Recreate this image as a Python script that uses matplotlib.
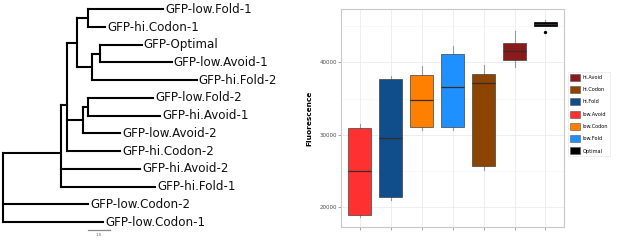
import matplotlib
matplotlib.use("Agg")
import numpy as np
import matplotlib.pyplot as plt
from matplotlib.patches import Patch

# ---- tree (branch lengths, scale bar = 1.0) ----
newick = ("(((((GFP-low.Fold-1:3.43,GFP-hi.Codon-1:0.76):0.53,"
          "((GFP-Optimal:1.92,GFP-low.Avoid-1:3.30):0.37,GFP-hi.Fold-2:4.82):0.69):0.46,"
          "((GFP-low.Fold-2:3.00,GFP-hi.Avoid-1:3.30):0.23,GFP-low.Avoid-2:1.69):0.75,"
          "GFP-hi.Codon-2:2.44):0.28,GFP-hi.Avoid-2:3.64,GFP-hi.Fold-1:4.33):2.67,"
          "GFP-low.Codon-2:3.93,GFP-low.Codon-1:4.62);")

# ---- boxplot summary values ----
groups = ["low.Avoid", "hi.Fold", "low.Codon", "low.Fold", "hi.Codon", "hi.Avoid", "Optimal"]
whislo = [18670, 21010, 30670, 30670, 25200, 39400, 45050]
q1 = [18900, 21380, 31080, 31030, 25700, 40280, 45050]
med = [25010, 29520, 34760, 36640, 37200, 41560, 45350]
q3 = [30900, 37750, 38210, 41200, 38350, 42620, 45600]
whishi = [31490, 38070, 39450, 42250, 39630, 44370, 45830]
outliers = [[], [], [], [], [], [], [44140]]

legend_order = ["hi.Avoid", "hi.Codon", "hi.Fold", "low.Avoid", "low.Codon", "low.Fold", "Optimal"]
fill = {
    "hi.Avoid": "#8B1A1A",
    "hi.Codon": "#8B4500",
    "hi.Fold": "#104E8B",
    "low.Avoid": "#FF3030",
    "low.Codon": "#FF7F00",
    "low.Fold": "#1E90FF",
    "Optimal": "#000000",
}


def parse_newick(s):
    pos = 0

    def node():
        nonlocal pos
        children = []
        if s[pos] == "(":
            pos += 1
            while True:
                children.append(node())
                if s[pos] == ",":
                    pos += 1
                    continue
                pos += 1  # ")"
                break
        start = pos
        while s[pos] not in ":,);":
            pos += 1
        name = s[start:pos]
        length = 0.0
        if s[pos] == ":":
            pos += 1
            start = pos
            while s[pos] not in ",);":
                pos += 1
            length = float(s[start:pos])
        return {"name": name, "len": length, "children": children}

    return node()


def layout(nd, x0, leaves):
    nd["x"] = x0 + nd["len"]
    if not nd["children"]:
        nd["y"] = len(leaves)
        leaves.append(nd)
    else:
        for c in nd["children"]:
            layout(c, nd["x"], leaves)
        nd["y"] = np.mean([c["y"] for c in nd["children"]])


def draw_tree(ax, nd):
    kw = dict(color="black", lw=1.5, solid_capstyle="projecting")
    if nd["children"]:
        ys = [c["y"] for c in nd["children"]]
        ax.plot([nd["x"], nd["x"]], [min(ys), max(ys)], **kw)
        for c in nd["children"]:
            ax.plot([nd["x"], c["x"]], [c["y"], c["y"]], **kw)
            draw_tree(ax, c)
    else:
        ax.text(nd["x"] + 0.1, nd["y"], nd["name"], ha="left", va="center",
                fontsize=8.6, color="#111111")


fig = plt.figure(figsize=(6.17, 2.4), dpi=100)

# ---------------- left: tree ----------------
axt = fig.add_axes([0, 0, 300 / 617, 1])
root = parse_newick(newick)
root["len"] = 0.0
leaves = []
layout(root, 0.0, leaves)
draw_tree(axt, root)
axt.set_xlim(-3 / 21.7, 297 / 21.7)
axt.set_ylim(13.015, -0.525)
axt.axis("off")

# scale bar
axt.plot([3.92, 4.92], [12.45, 12.45], color="#888888", lw=0.9)
axt.text(4.42, 12.75, "1.0", ha="center", va="center", fontsize=2.8, color="#666666")

# ---------------- right: boxplot ----------------
ax = fig.add_axes([341.3 / 617, 13.3 / 240, 222.7 / 617, 217.4 / 240])
stats = []
for i, g in enumerate(groups):
    stats.append(dict(label=g, whislo=whislo[i], q1=q1[i], med=med[i], q3=q3[i],
                      whishi=whishi[i], fliers=outliers[i]))
pos = np.arange(1, len(groups) + 1)
bp = ax.bxp(stats, positions=pos, widths=0.75, patch_artist=True, showcaps=False,
            whiskerprops=dict(color="#9a9a9a", lw=0.8),
            medianprops=dict(color="#3a2a2a", lw=0.9),
            flierprops=dict(marker="o", markersize=1.4, markerfacecolor="black",
                            markeredgecolor="black"))
for patch, g in zip(bp["boxes"], groups):
    patch.set_facecolor(fill[g])
    patch.set_edgecolor("#404040" if g != "Optimal" else "black")
    patch.set_linewidth(0.5)
    patch.set_zorder(3)
for m in bp["medians"]:
    m.set_zorder(4)

ax.set_xlim(0.4, len(groups) + 0.6)
ax.set_ylim(17320, 47310)
ax.set_yticks([20000, 30000, 40000])
ax.set_yticks([25000, 35000, 45000], minor=True)
ax.set_xticks(pos)
ax.set_xticklabels([])
ax.grid(True, which="major", color="#EBEBEB", lw=0.6)
ax.grid(True, which="minor", axis="y", color="#F3F3F3", lw=0.4)
ax.set_axisbelow(True)
ax.tick_params(axis="both", which="major", length=2, width=0.5, color="#7F7F7F",
               labelsize=4, labelcolor="#4D4D4D", pad=1)
ax.tick_params(axis="y", which="minor", length=0)
for sp in ax.spines.values():
    sp.set_color("#C8C8C8")
    sp.set_linewidth(0.8)
ax.set_ylabel("Fluorescence", fontsize=5.3, fontweight="bold", labelpad=5)

handles = [Patch(facecolor=fill[g], edgecolor="#555555", lw=0.4, label=g) for g in legend_order]
leg = fig.legend(handles=handles, loc="upper left",
                 bbox_to_anchor=(567.7 / 617, 1 - 71.7 / 240), borderaxespad=0,
                 fontsize=3.6, handlelength=2.1, handleheight=1.8, labelspacing=1.04,
                 handletextpad=0.5, borderpad=0.4, fancybox=False, frameon=True)
leg.get_frame().set_edgecolor("#E2E2E2")
leg.get_frame().set_linewidth(0.5)

fig.savefig("out.png", dpi=100)
